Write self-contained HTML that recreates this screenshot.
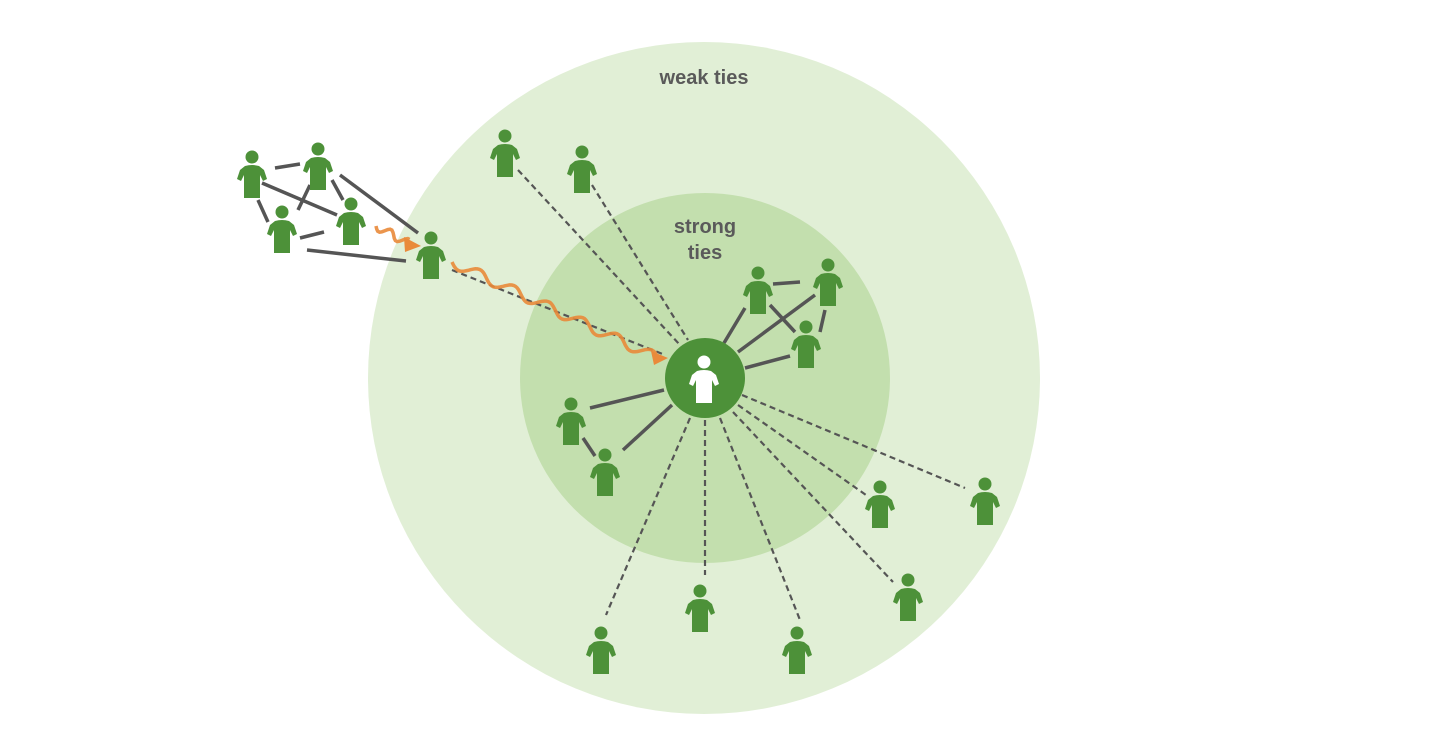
<!DOCTYPE html>
<html><head><meta charset="utf-8"><style>
html,body{margin:0;padding:0;background:#fff;}
svg{display:block}
text{font-family:"Liberation Sans",sans-serif;font-weight:bold;fill:#5a5a5a;}
</style></head><body>
<svg id="s" width="1446" height="755" viewBox="0 0 1446 755" xmlns="http://www.w3.org/2000/svg">
<defs>
<g id="p" fill="#4d9139">
<circle cx="0" cy="0" r="6.5"/>
<path d="M-7,9 Q0,7 7,9 L12,13 L15,22 L11,24 L8,18 L8,41 L-8,41 L-8,18 L-11,24 L-15,22 L-12,13 Z"/>
</g>
</defs>
<circle cx="704" cy="378" r="336" fill="#e1efd6"/>
<circle cx="705" cy="378" r="185" fill="#c3dfae"/>
<text x="704" y="84" font-size="20" text-anchor="middle">weak ties</text>
<text x="705" y="233" font-size="20" text-anchor="middle">strong</text>
<text x="705" y="259" font-size="20" text-anchor="middle">ties</text>
<g stroke="#555" stroke-width="2.2" stroke-dasharray="6,4" fill="none">
<line x1="518" y1="170" x2="680" y2="345"/>
<line x1="592" y1="185" x2="688" y2="340"/>
<line x1="452" y1="270" x2="665" y2="355"/>
<line x1="690" y1="418" x2="606" y2="615"/>
<line x1="705" y1="420" x2="705" y2="575"/>
<line x1="720" y1="418" x2="800" y2="620"/>
<line x1="733" y1="412" x2="893" y2="582"/>
<line x1="738" y1="405" x2="866" y2="495"/>
<line x1="742" y1="395" x2="965" y2="488"/>
</g>
<g stroke="#555" stroke-width="3.5" fill="none">
<line x1="275" y1="168" x2="300" y2="164"/>
<line x1="262" y1="183" x2="337" y2="215"/>
<line x1="258" y1="200" x2="268" y2="222"/>
<line x1="298" y1="210" x2="310" y2="185"/>
<line x1="332" y1="180" x2="343" y2="200"/>
<line x1="340" y1="175" x2="418" y2="233"/>
<line x1="300" y1="238" x2="324" y2="232"/>
<line x1="307" y1="250" x2="406" y2="261"/>
<line x1="590" y1="408" x2="664" y2="390"/>
<line x1="623" y1="450" x2="672" y2="405"/>
<line x1="724" y1="343" x2="745" y2="308"/>
<line x1="738" y1="352" x2="815" y2="295"/>
<line x1="745" y1="368" x2="790" y2="356"/>
<line x1="773" y1="284" x2="800" y2="282"/>
<line x1="770" y1="305" x2="795" y2="332"/>
<line x1="820" y1="332" x2="825" y2="310"/>
<line x1="583" y1="438" x2="595" y2="456"/>
</g>
<path id="w1" fill="none" stroke="#e98a3a" stroke-width="3.5" stroke-opacity="0.9"/>
<path id="w2" fill="none" stroke="#e98a3a" stroke-width="3.5" stroke-opacity="0.9"/>
<polygon points="668,358 651,351 654,365" fill="#e98a3a"/>
<polygon points="421,246 404,237 405,252" fill="#e98a3a"/>
<circle cx="705" cy="378" r="40" fill="#4d9139"/>
<g fill="#fff">
<circle cx="704" cy="362" r="6.5"/>
<path d="M697,371 Q704,369 711,371 L716,375 L719,384 L715,386 L712,380 L712,403 L696,403 L696,380 L693,386 L689,384 L692,375 Z"/>
</g>
<use href="#p" x="252" y="157"/><use href="#p" x="318" y="149"/>
<use href="#p" x="282" y="212"/><use href="#p" x="351" y="204"/>
<use href="#p" x="431" y="238"/><use href="#p" x="505" y="136"/>
<use href="#p" x="582" y="152"/><use href="#p" x="758" y="273"/>
<use href="#p" x="828" y="265"/><use href="#p" x="806" y="327"/>
<use href="#p" x="571" y="404"/><use href="#p" x="605" y="455"/>
<use href="#p" x="880" y="487"/><use href="#p" x="985" y="484"/>
<use href="#p" x="908" y="580"/><use href="#p" x="700" y="591"/>
<use href="#p" x="601" y="633"/><use href="#p" x="797" y="633"/>
</svg>
<script>
function wave(id,x1,y1,x2,y2,wl,amp){
 var dx=x2-x1,dy=y2-y1,L=Math.hypot(dx,dy),ux=dx/L,uy=dy/L,nx=-uy,ny=ux,d="";
 for(var t=0;t<=L;t+=2){var o=amp*Math.sin(t/wl*2*Math.PI);
 d+=(t?"L":"M")+(x1+ux*t+nx*o).toFixed(1)+","+(y1+uy*t+ny*o).toFixed(1);}
 document.getElementById(id).setAttribute("d",d);
}
wave("w1",452,262,655,357,38,5);
wave("w2",376,226,408,243,20,4);
</script>
</body></html>
